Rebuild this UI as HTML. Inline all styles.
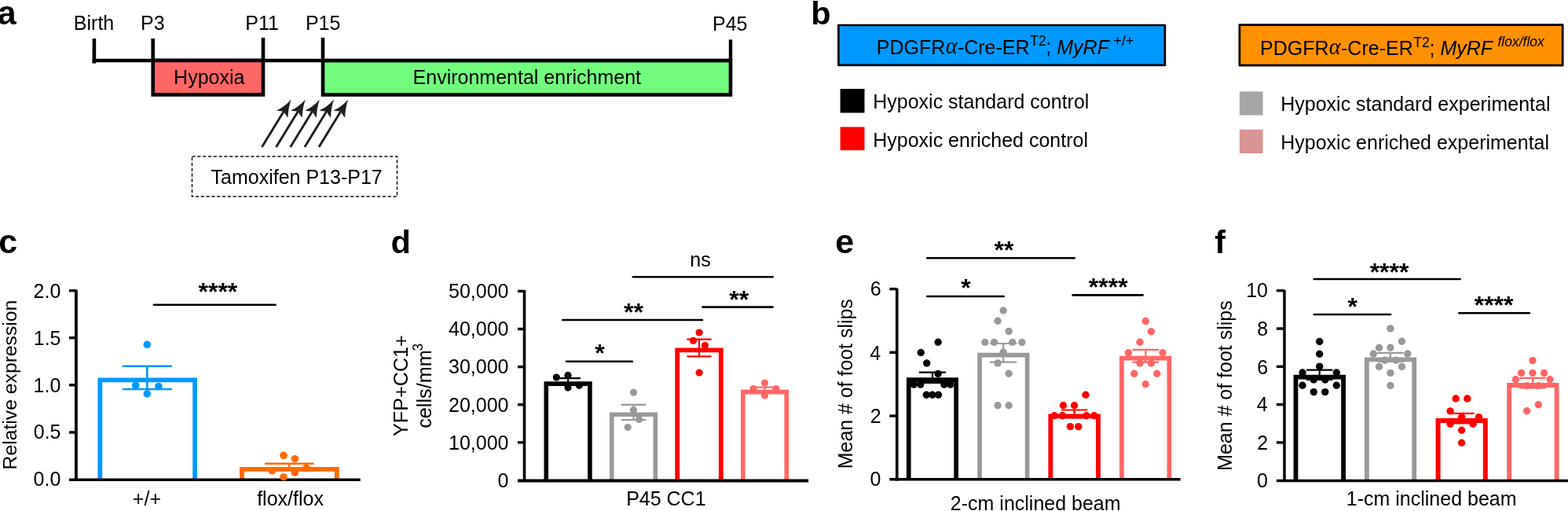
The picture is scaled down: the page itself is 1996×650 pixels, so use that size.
<!DOCTYPE html>
<html><head><meta charset="utf-8"><title>Figure</title>
<style>
html,body{margin:0;padding:0;background:#fff;}
body{width:1996px;height:650px;overflow:hidden;}
svg{display:block;font-family:"Liberation Sans", Arial, Helvetica, sans-serif;}
</style></head><body>
<svg width="1996" height="650" viewBox="0 0 1996 650">
<rect width="1996" height="650" fill="#fff"/>
<line x1="117.6" y1="76.9" x2="930" y2="76.9" stroke="#000" stroke-width="4.5" stroke-linecap="butt"/>
<line x1="119.9" y1="49" x2="119.9" y2="80.6" stroke="#000" stroke-width="4.6" stroke-linecap="butt"/>
<rect x="194.7" y="76.9" width="140.3" height="43.6" fill="#ff6666" stroke="#000" stroke-width="4.6"/>
<rect x="411" y="77.1" width="518.95" height="43.45" fill="#72fc7e" stroke="#000" stroke-width="4.6"/>
<line x1="194.7" y1="49" x2="194.7" y2="77" stroke="#000" stroke-width="4.6" stroke-linecap="butt"/>
<line x1="335" y1="47.9" x2="335" y2="77" stroke="#000" stroke-width="4.6" stroke-linecap="butt"/>
<line x1="411" y1="47.9" x2="411" y2="77" stroke="#000" stroke-width="4.6" stroke-linecap="butt"/>
<line x1="930" y1="50.4" x2="930" y2="77" stroke="#000" stroke-width="4.4" stroke-linecap="butt"/>
<line x1="333.4" y1="187" x2="362.23" y2="140.04" stroke="#1f1f1f" stroke-width="2.9" stroke-linecap="butt"/>
<path d="M370.6 126.4Q362.76 135.55 351.9 140.62Q358.47 141.95 361.39 141.4Q362.22 144.25 366.59 149.75Q366.69 137.73 370.6 126.4Z" fill="#1f1f1f"/>
<line x1="351.55" y1="187" x2="380.38" y2="140.04" stroke="#1f1f1f" stroke-width="2.9" stroke-linecap="butt"/>
<path d="M388.75 126.4Q380.91 135.55 370.05 140.62Q376.62 141.95 379.54 141.4Q380.37 144.25 384.74 149.75Q384.84 137.73 388.75 126.4Z" fill="#1f1f1f"/>
<line x1="369.7" y1="187" x2="398.53" y2="140.04" stroke="#1f1f1f" stroke-width="2.9" stroke-linecap="butt"/>
<path d="M406.9 126.4Q399.06 135.55 388.2 140.62Q394.77 141.95 397.69 141.4Q398.52 144.25 402.89 149.75Q402.99 137.73 406.9 126.4Z" fill="#1f1f1f"/>
<line x1="387.85" y1="187" x2="416.68" y2="140.04" stroke="#1f1f1f" stroke-width="2.9" stroke-linecap="butt"/>
<path d="M425.05 126.4Q417.21 135.55 406.35 140.62Q412.92 141.95 415.84 141.4Q416.67 144.25 421.04 149.75Q421.14 137.73 425.05 126.4Z" fill="#1f1f1f"/>
<line x1="406" y1="187" x2="434.83" y2="140.04" stroke="#1f1f1f" stroke-width="2.9" stroke-linecap="butt"/>
<path d="M443.2 126.4Q435.36 135.55 424.5 140.62Q431.07 141.95 433.99 141.4Q434.82 144.25 439.19 149.75Q439.29 137.73 443.2 126.4Z" fill="#1f1f1f"/>
<rect x="244.5" y="199.1" width="261.0" height="51.0" fill="none" stroke="#111" stroke-width="1.5" stroke-dasharray="4.2 2.6"/>
<rect x="1067.4" y="32.0" width="415.5" height="50.9" fill="#0099ff" stroke="#000" stroke-width="2.7" stroke-linejoin="round"/>
<rect x="1577.9" y="31.7" width="411.3" height="51.5" fill="#ff9100" stroke="#000" stroke-width="2.7" stroke-linejoin="round"/>
<rect x="1069.6" y="113" width="30.9" height="30.5" fill="#000"/>
<rect x="1069.6" y="161.5" width="30.9" height="29.7" fill="#ff0000"/>
<rect x="1577.9" y="116.4" width="29.7" height="30.1" fill="#a6a6a6"/>
<rect x="1577.9" y="164.9" width="29.7" height="30.1" fill="#d99494"/>
<line x1="88" y1="369.7" x2="96.9" y2="369.7" stroke="#000" stroke-width="3.4" stroke-linecap="butt"/>
<line x1="88" y1="429.7" x2="96.9" y2="429.7" stroke="#000" stroke-width="3.4" stroke-linecap="butt"/>
<line x1="88" y1="489.8" x2="96.9" y2="489.8" stroke="#000" stroke-width="3.4" stroke-linecap="butt"/>
<line x1="88" y1="550" x2="96.9" y2="550" stroke="#000" stroke-width="3.4" stroke-linecap="butt"/>
<line x1="96.9" y1="368.6" x2="96.9" y2="611.3" stroke="#000" stroke-width="3.8" stroke-linecap="butt"/>
<path d="M127.3 609.6V483.3H248.1V609.6" fill="none" stroke="#0099ff" stroke-width="5.8" stroke-linejoin="miter"/>
<path d="M307.9 609.6V596.8H428.8V609.6" fill="none" stroke="#ff6a00" stroke-width="5.8" stroke-linejoin="miter"/>
<path d="M156.7 465.8H217.9M187.3 465.8V495M156.7 495H217.9" fill="none" stroke="#0099ff" stroke-width="2.6" stroke-linecap="round"/>
<path d="M338 589.7H398.4M368.2 589.7V598.1M338 598.1H398.4" fill="none" stroke="#ff6a00" stroke-width="2.4" stroke-linecap="round"/>
<line x1="88" y1="610.2" x2="458.7" y2="610.2" stroke="#000" stroke-width="3.6" stroke-linecap="butt"/>
<circle cx="187.3" cy="438.3" r="4.8" fill="#0099ff"/>
<circle cx="172.7" cy="490.2" r="4.8" fill="#0099ff"/>
<circle cx="201.9" cy="491.5" r="4.8" fill="#0099ff"/>
<circle cx="187.3" cy="500.9" r="4.8" fill="#0099ff"/>
<circle cx="361" cy="579.3" r="4.8" fill="#ff6a00"/>
<circle cx="375.3" cy="583.7" r="4.8" fill="#ff6a00"/>
<circle cx="390" cy="595.5" r="4.8" fill="#ff6a00"/>
<circle cx="346.5" cy="598.8" r="4.8" fill="#ff6a00"/>
<circle cx="375.3" cy="601" r="4.8" fill="#ff6a00"/>
<circle cx="361" cy="606.7" r="4.8" fill="#ff6a00"/>
<line x1="195.9" y1="387.7" x2="350.6" y2="387.7" stroke="#000" stroke-width="2.6" stroke-linecap="round"/>
<line x1="659" y1="370.4" x2="667.5" y2="370.4" stroke="#000" stroke-width="3.4" stroke-linecap="butt"/>
<line x1="659" y1="418.5" x2="667.5" y2="418.5" stroke="#000" stroke-width="3.4" stroke-linecap="butt"/>
<line x1="659" y1="466.6" x2="667.5" y2="466.6" stroke="#000" stroke-width="3.4" stroke-linecap="butt"/>
<line x1="659" y1="514.7" x2="667.5" y2="514.7" stroke="#000" stroke-width="3.4" stroke-linecap="butt"/>
<line x1="659" y1="562.8" x2="667.5" y2="562.8" stroke="#000" stroke-width="3.4" stroke-linecap="butt"/>
<line x1="667.5" y1="368.9" x2="667.5" y2="613" stroke="#000" stroke-width="3.6" stroke-linecap="butt"/>
<path d="M695.3 611.5V488.1H750.9V611.5" fill="none" stroke="#000000" stroke-width="5.6" stroke-linejoin="miter"/>
<path d="M778.8 611.5V527.3H834.3V611.5" fill="none" stroke="#999999" stroke-width="5.6" stroke-linejoin="miter"/>
<path d="M862.2 611.5V445.4H917.8V611.5" fill="none" stroke="#ff0000" stroke-width="5.8" stroke-linejoin="miter"/>
<path d="M945.8 611.5V498.6H1001.2V611.5" fill="none" stroke="#ff6666" stroke-width="5.6" stroke-linejoin="miter"/>
<path d="M708.1 481.2H738.1M723.1 481.2V489.4M708.1 489.4H738.1" fill="none" stroke="#000000" stroke-width="2.2" stroke-linecap="round"/>
<path d="M791.5 514.9H821.5M806.5 514.9V534.1M791.5 534.1H821.5" fill="none" stroke="#999999" stroke-width="2.2" stroke-linecap="round"/>
<path d="M875.2 431.7H904.8M890 431.7V453.3M875.2 453.3H904.8" fill="none" stroke="#ff0000" stroke-width="2.2" stroke-linecap="round"/>
<path d="M958.7 492.6H988.3M973.5 492.6V499.2M958.7 499.2H988.3" fill="none" stroke="#ff6666" stroke-width="2.2" stroke-linecap="round"/>
<circle cx="708.4" cy="480" r="4.6" fill="#000000"/>
<circle cx="723" cy="477.4" r="4.6" fill="#000000"/>
<circle cx="723" cy="493.1" r="4.6" fill="#000000"/>
<circle cx="737.3" cy="490.3" r="4.6" fill="#000000"/>
<circle cx="806.5" cy="499.2" r="4.6" fill="#999999"/>
<circle cx="806.5" cy="521.5" r="4.6" fill="#999999"/>
<circle cx="813.5" cy="533.5" r="4.6" fill="#999999"/>
<circle cx="799.2" cy="543.5" r="4.6" fill="#999999"/>
<circle cx="890.1" cy="423" r="4.6" fill="#ff0000"/>
<circle cx="882.5" cy="433.3" r="4.6" fill="#ff0000"/>
<circle cx="897.4" cy="439.6" r="4.6" fill="#ff0000"/>
<circle cx="890.1" cy="474" r="4.6" fill="#ff0000"/>
<circle cx="973.5" cy="487" r="4.6" fill="#ff6666"/>
<circle cx="959.1" cy="494.6" r="4.6" fill="#ff6666"/>
<circle cx="987.9" cy="494.6" r="4.6" fill="#ff6666"/>
<circle cx="973.5" cy="503" r="4.6" fill="#ff6666"/>
<line x1="659" y1="611.5" x2="1029.1" y2="611.5" stroke="#000" stroke-width="3.8" stroke-linecap="butt"/>
<line x1="721" y1="459.8" x2="804.9" y2="459.8" stroke="#000" stroke-width="2.6" stroke-linecap="round"/>
<line x1="716.3" y1="407" x2="893.9" y2="407" stroke="#000" stroke-width="2.6" stroke-linecap="round"/>
<line x1="894.4" y1="390.6" x2="983.6" y2="390.6" stroke="#000" stroke-width="2.6" stroke-linecap="round"/>
<line x1="805.8" y1="352.2" x2="983.6" y2="352.2" stroke="#000" stroke-width="2.6" stroke-linecap="round"/>
<line x1="1132.4" y1="367.6" x2="1141.8" y2="367.6" stroke="#000" stroke-width="3.4" stroke-linecap="butt"/>
<line x1="1132.4" y1="448.3" x2="1141.8" y2="448.3" stroke="#000" stroke-width="3.4" stroke-linecap="butt"/>
<line x1="1132.4" y1="529" x2="1141.8" y2="529" stroke="#000" stroke-width="3.4" stroke-linecap="butt"/>
<line x1="1141.8" y1="367" x2="1141.8" y2="611.5" stroke="#000" stroke-width="3.6" stroke-linecap="butt"/>
<path d="M1156.75 609.8V483.15H1217.15V609.8" fill="none" stroke="#000000" stroke-width="5.7" stroke-linejoin="miter"/>
<path d="M1247.05 609.8V451.65H1307.65V609.8" fill="none" stroke="#999999" stroke-width="5.7" stroke-linejoin="miter"/>
<path d="M1337.35 609.8V529.35H1397.95V609.8" fill="none" stroke="#ff0000" stroke-width="5.9" stroke-linejoin="miter"/>
<path d="M1427.95 609.8V455.55H1488.35V609.8" fill="none" stroke="#ff6666" stroke-width="5.7" stroke-linejoin="miter"/>
<path d="M1170.8 473.7H1203.2M1187 473.7V486.9M1170.8 486.9H1203.2" fill="none" stroke="#000000" stroke-width="2.2" stroke-linecap="round"/>
<path d="M1261.1 437H1293.3M1277.2 437V460.6M1261.1 460.6H1293.3" fill="none" stroke="#999999" stroke-width="2.2" stroke-linecap="round"/>
<path d="M1351.7 521.5H1383.5M1367.6 521.5V531.3M1351.7 531.3H1383.5" fill="none" stroke="#ff0000" stroke-width="2.2" stroke-linecap="round"/>
<path d="M1442.3 444.8H1474.3M1458.3 444.8V460.6M1442.3 460.6H1474.3" fill="none" stroke="#ff6666" stroke-width="2.2" stroke-linecap="round"/>
<circle cx="1194.1" cy="435.2" r="4.7" fill="#000000"/>
<circle cx="1172.2" cy="448.5" r="4.7" fill="#000000"/>
<circle cx="1179.7" cy="462" r="4.7" fill="#000000"/>
<circle cx="1194.1" cy="475.4" r="4.7" fill="#000000"/>
<circle cx="1163.3" cy="489.1" r="4.7" fill="#000000"/>
<circle cx="1171.8" cy="489.1" r="4.7" fill="#000000"/>
<circle cx="1201.9" cy="489.1" r="4.7" fill="#000000"/>
<circle cx="1209.8" cy="489.1" r="4.7" fill="#000000"/>
<circle cx="1179.3" cy="502.2" r="4.7" fill="#000000"/>
<circle cx="1186.9" cy="502.2" r="4.7" fill="#000000"/>
<circle cx="1194.5" cy="502.2" r="4.7" fill="#000000"/>
<circle cx="1277.2" cy="395" r="4.7" fill="#999999"/>
<circle cx="1270.1" cy="408.2" r="4.7" fill="#999999"/>
<circle cx="1284.2" cy="421.5" r="4.7" fill="#999999"/>
<circle cx="1253.9" cy="435.4" r="4.7" fill="#999999"/>
<circle cx="1265.5" cy="435.4" r="4.7" fill="#999999"/>
<circle cx="1288.8" cy="435.4" r="4.7" fill="#999999"/>
<circle cx="1300.8" cy="435.4" r="4.7" fill="#999999"/>
<circle cx="1277.2" cy="448.1" r="4.7" fill="#999999"/>
<circle cx="1270.1" cy="461.9" r="4.7" fill="#999999"/>
<circle cx="1284.2" cy="475.3" r="4.7" fill="#999999"/>
<circle cx="1270.1" cy="515.7" r="4.7" fill="#999999"/>
<circle cx="1284.2" cy="515.7" r="4.7" fill="#999999"/>
<circle cx="1382" cy="502.2" r="4.7" fill="#ff0000"/>
<circle cx="1353.4" cy="515.7" r="4.7" fill="#ff0000"/>
<circle cx="1367.6" cy="515.7" r="4.7" fill="#ff0000"/>
<circle cx="1342.3" cy="528.7" r="4.7" fill="#ff0000"/>
<circle cx="1352.4" cy="528.7" r="4.7" fill="#ff0000"/>
<circle cx="1382.9" cy="528.7" r="4.7" fill="#ff0000"/>
<circle cx="1392.8" cy="528.7" r="4.7" fill="#ff0000"/>
<circle cx="1362.4" cy="542.6" r="4.7" fill="#ff0000"/>
<circle cx="1372.8" cy="542.6" r="4.7" fill="#ff0000"/>
<circle cx="1458.3" cy="408.5" r="4.7" fill="#ff6666"/>
<circle cx="1465.4" cy="421.7" r="4.7" fill="#ff6666"/>
<circle cx="1451" cy="435.2" r="4.7" fill="#ff6666"/>
<circle cx="1436.4" cy="448.7" r="4.7" fill="#ff6666"/>
<circle cx="1480.1" cy="448.7" r="4.7" fill="#ff6666"/>
<circle cx="1451" cy="462" r="4.7" fill="#ff6666"/>
<circle cx="1465.4" cy="462" r="4.7" fill="#ff6666"/>
<circle cx="1443.8" cy="475.2" r="4.7" fill="#ff6666"/>
<circle cx="1472.7" cy="475.2" r="4.7" fill="#ff6666"/>
<circle cx="1458.3" cy="488.7" r="4.7" fill="#ff6666"/>
<line x1="1132.4" y1="609.8" x2="1502.7" y2="609.8" stroke="#000" stroke-width="3.6" stroke-linecap="butt"/>
<line x1="1180.3" y1="328.3" x2="1367.7" y2="328.3" stroke="#000" stroke-width="2.6" stroke-linecap="round"/>
<line x1="1180.3" y1="377" x2="1277.8" y2="377" stroke="#000" stroke-width="2.6" stroke-linecap="round"/>
<line x1="1365.6" y1="375.4" x2="1454.6" y2="375.4" stroke="#000" stroke-width="2.6" stroke-linecap="round"/>
<line x1="1624.9" y1="369.7" x2="1635" y2="369.7" stroke="#000" stroke-width="3.4" stroke-linecap="butt"/>
<line x1="1624.9" y1="418" x2="1635" y2="418" stroke="#000" stroke-width="3.4" stroke-linecap="butt"/>
<line x1="1624.9" y1="466.3" x2="1635" y2="466.3" stroke="#000" stroke-width="3.4" stroke-linecap="butt"/>
<line x1="1624.9" y1="514.6" x2="1635" y2="514.6" stroke="#000" stroke-width="3.4" stroke-linecap="butt"/>
<line x1="1624.9" y1="562.9" x2="1635" y2="562.9" stroke="#000" stroke-width="3.4" stroke-linecap="butt"/>
<line x1="1635" y1="368.9" x2="1635" y2="613" stroke="#000" stroke-width="3.5" stroke-linecap="butt"/>
<path d="M1649.5 611.5V479.7H1710.1V611.5" fill="none" stroke="#000000" stroke-width="5.8" stroke-linejoin="miter"/>
<path d="M1739.9 611.5V457.3H1800.2V611.5" fill="none" stroke="#999999" stroke-width="5.8" stroke-linejoin="miter"/>
<path d="M1830.6 611.5V535.1H1890.8V611.5" fill="none" stroke="#ff0000" stroke-width="6" stroke-linejoin="miter"/>
<path d="M1921.1 611.5V490H1981.6V611.5" fill="none" stroke="#ff6666" stroke-width="5.8" stroke-linejoin="miter"/>
<path d="M1663.9 470.7H1695.5M1679.7 470.7V482.9M1663.9 482.9H1695.5" fill="none" stroke="#000000" stroke-width="2.2" stroke-linecap="round"/>
<path d="M1754 448.9H1785.8M1769.9 448.9V459.9M1754 459.9H1785.8" fill="none" stroke="#999999" stroke-width="2.2" stroke-linecap="round"/>
<path d="M1845.3 525.9H1875.9M1860.6 525.9V538.3M1845.3 538.3H1875.9" fill="none" stroke="#ff0000" stroke-width="2.2" stroke-linecap="round"/>
<path d="M1934.9 480.8H1967.1M1951 480.8V493.4M1934.9 493.4H1967.1" fill="none" stroke="#ff6666" stroke-width="2.2" stroke-linecap="round"/>
<circle cx="1679.7" cy="434.5" r="4.7" fill="#000000"/>
<circle cx="1679.7" cy="450.2" r="4.7" fill="#000000"/>
<circle cx="1679.7" cy="466.1" r="4.7" fill="#000000"/>
<circle cx="1658" cy="474" r="4.7" fill="#000000"/>
<circle cx="1701.3" cy="474" r="4.7" fill="#000000"/>
<circle cx="1672.3" cy="483" r="4.7" fill="#000000"/>
<circle cx="1686.8" cy="483" r="4.7" fill="#000000"/>
<circle cx="1658" cy="490.3" r="4.7" fill="#000000"/>
<circle cx="1701.3" cy="490.3" r="4.7" fill="#000000"/>
<circle cx="1672.3" cy="498.6" r="4.7" fill="#000000"/>
<circle cx="1686.8" cy="498.6" r="4.7" fill="#000000"/>
<circle cx="1769.9" cy="417.9" r="4.7" fill="#999999"/>
<circle cx="1784.5" cy="434.2" r="4.7" fill="#999999"/>
<circle cx="1755.6" cy="442.3" r="4.7" fill="#999999"/>
<circle cx="1769.9" cy="442.3" r="4.7" fill="#999999"/>
<circle cx="1748.3" cy="450" r="4.7" fill="#999999"/>
<circle cx="1791.8" cy="450" r="4.7" fill="#999999"/>
<circle cx="1762.9" cy="458.3" r="4.7" fill="#999999"/>
<circle cx="1777.2" cy="458.3" r="4.7" fill="#999999"/>
<circle cx="1755.6" cy="466.4" r="4.7" fill="#999999"/>
<circle cx="1784.5" cy="466.4" r="4.7" fill="#999999"/>
<circle cx="1769.9" cy="474.4" r="4.7" fill="#999999"/>
<circle cx="1769.9" cy="490.5" r="4.7" fill="#999999"/>
<circle cx="1853.2" cy="507" r="4.7" fill="#ff0000"/>
<circle cx="1867.8" cy="507" r="4.7" fill="#ff0000"/>
<circle cx="1846.1" cy="522.9" r="4.7" fill="#ff0000"/>
<circle cx="1860.6" cy="530.4" r="4.7" fill="#ff0000"/>
<circle cx="1882.5" cy="530.6" r="4.7" fill="#ff0000"/>
<circle cx="1846.1" cy="539.2" r="4.7" fill="#ff0000"/>
<circle cx="1875.1" cy="539.2" r="4.7" fill="#ff0000"/>
<circle cx="1860.6" cy="547.2" r="4.7" fill="#ff0000"/>
<circle cx="1860.6" cy="563.2" r="4.7" fill="#ff0000"/>
<circle cx="1951" cy="458.6" r="4.7" fill="#ff6666"/>
<circle cx="1936.5" cy="474.4" r="4.7" fill="#ff6666"/>
<circle cx="1951" cy="474.4" r="4.7" fill="#ff6666"/>
<circle cx="1965.6" cy="474.4" r="4.7" fill="#ff6666"/>
<circle cx="1929.4" cy="482.7" r="4.7" fill="#ff6666"/>
<circle cx="1973.1" cy="482.7" r="4.7" fill="#ff6666"/>
<circle cx="1943.7" cy="490.6" r="4.7" fill="#ff6666"/>
<circle cx="1958.3" cy="490.6" r="4.7" fill="#ff6666"/>
<circle cx="1958.3" cy="514.7" r="4.7" fill="#ff6666"/>
<circle cx="1943.7" cy="522.8" r="4.7" fill="#ff6666"/>
<line x1="1624.9" y1="611.5" x2="1996" y2="611.5" stroke="#000" stroke-width="3.6" stroke-linecap="butt"/>
<line x1="1672.7" y1="355" x2="1858.7" y2="355" stroke="#000" stroke-width="2.6" stroke-linecap="round"/>
<line x1="1672.7" y1="400" x2="1770.1" y2="400" stroke="#000" stroke-width="2.6" stroke-linecap="round"/>
<line x1="1857.4" y1="398.3" x2="1946.9" y2="398.3" stroke="#000" stroke-width="2.6" stroke-linecap="round"/>
<text id="la" x="20.62" y="31" font-size="43" text-anchor="end" font-weight="bold" fill="#000">a</text>
<text id="lb" x="1032.37" y="31" font-size="41.5" text-anchor="start" font-weight="bold" fill="#000">b</text>
<text id="lc" x="22.25" y="322.11" font-size="43" text-anchor="end" font-weight="bold" fill="#000">c</text>
<text id="ld" x="497.6" y="321.71" font-size="41.5" text-anchor="start" font-weight="bold" fill="#000">d</text>
<text id="le" x="1063.34" y="321.91" font-size="43" text-anchor="start" font-weight="bold" fill="#000">e</text>
<text id="lf" x="1546.32" y="322" font-size="41.5" text-anchor="start" font-weight="bold" fill="#000">f</text>
<text id="birth" x="93.85" y="38" font-size="25" text-anchor="start" fill="#000">Birth</text>
<text id="p3" x="179.05" y="38" font-size="25" text-anchor="start" fill="#000">P3</text>
<text id="p11" x="333.62" y="38" font-size="25" text-anchor="middle" fill="#000">P11</text>
<text id="p15" x="388.89" y="38" font-size="25" text-anchor="start" fill="#000">P15</text>
<text id="p45" x="907" y="39" font-size="25" text-anchor="start" fill="#000">P45</text>
<text id="hyp" x="221.09" y="107" font-size="25" text-anchor="start" fill="#000">Hypoxia</text>
<text id="env" x="525.6" y="107" font-size="25" text-anchor="start" fill="#000">Environmental enrichment</text>
<text id="tam" x="268.53" y="234" font-size="25" text-anchor="start" fill="#000">Tamoxifen P13-P17</text>
<text id="lg1" x="1111.24" y="138" font-size="25" text-anchor="start" fill="#000">Hypoxic standard control</text>
<text id="lg2" x="1111.24" y="187" font-size="25" text-anchor="start" fill="#000">Hypoxic enriched control</text>
<text id="lg3" x="1630.24" y="141" font-size="25" text-anchor="start" fill="#000">Hypoxic standard experimental</text>
<text id="lg4" x="1630.24" y="190" font-size="25" text-anchor="start" fill="#000">Hypoxic enriched experimental</text>
<text id="c_sig" x="252.48" y="381.51" font-size="32" text-anchor="start" font-weight="bold" fill="#000">****</text>
<text id="c_x1" x="168.86" y="643" font-size="25" text-anchor="start" fill="#000">+/+</text>
<text id="c_x2" x="327.17" y="643" font-size="25" text-anchor="start" fill="#000">flox/flox</text>
<text id="c_y" transform="translate(20.6 597.4) rotate(-90)" x="0" y="0" font-size="24.72" text-anchor="start">Relative expression</text>
<text id="d_s1" x="757.16" y="460.01" font-size="32" text-anchor="start" font-weight="bold" fill="#000">*</text>
<text id="d_s2" x="794.09" y="407.51" font-size="32" text-anchor="start" font-weight="bold" fill="#000">**</text>
<text id="d_s3" x="928.18" y="391.61" font-size="32" text-anchor="start" font-weight="bold" fill="#000">**</text>
<text id="d_ns" x="878.35" y="338.7" font-size="25" text-anchor="start" fill="#000">ns</text>
<text id="d_x" x="797.15" y="643.2" font-size="25" text-anchor="start" fill="#000">P45 CC1</text>
<text id="d_y1" transform="translate(519 554.92) rotate(-90)" x="0" y="0" font-size="25.18" text-anchor="start">YFP+CC1+</text>
<text id="e_s1" x="1265.45" y="328.91" font-size="32" text-anchor="start" font-weight="bold" fill="#000">**</text>
<text id="e_s2" x="1223.29" y="376.71" font-size="32" text-anchor="start" font-weight="bold" fill="#000">*</text>
<text id="e_s3" x="1385.83" y="375.61" font-size="32" text-anchor="start" font-weight="bold" fill="#000">****</text>
<text id="e_x" x="1209.83" y="649" font-size="25" text-anchor="start" fill="#000">2-cm inclined beam</text>
<text id="e_y" transform="translate(1085.4 596.22) rotate(-90)" x="0" y="0" font-size="24.92" text-anchor="start">Mean # of foot slips</text>
<text id="f_s1" x="1743.63" y="357.41" font-size="32" text-anchor="start" font-weight="bold" fill="#000">****</text>
<text id="f_s2" x="1715.55" y="401.31" font-size="32" text-anchor="start" font-weight="bold" fill="#000">*</text>
<text id="f_s3" x="1876.68" y="399.01" font-size="32" text-anchor="start" font-weight="bold" fill="#000">****</text>
<text id="f_x" x="1713.8" y="643" font-size="25" text-anchor="start" fill="#000">1-cm inclined beam</text>
<text id="f_y" transform="translate(1568.1 598.87) rotate(-90)" x="0" y="0" font-size="24.98" text-anchor="start">Mean # of foot slips</text>
<text id="tc_2.0" x="77.38" y="379.15" font-size="25" text-anchor="end" fill="#000">2.0</text>
<text id="tc_1.5" x="77.52" y="438.96" font-size="25" text-anchor="end" fill="#000">1.5</text>
<text id="tc_1.0" x="77.38" y="498.7" font-size="25" text-anchor="end" fill="#000">1.0</text>
<text id="tc_0.5" x="77.52" y="558.48" font-size="25" text-anchor="end" fill="#000">0.5</text>
<text id="tc_0.0" x="77.38" y="618.2" font-size="25" text-anchor="end" fill="#000">0.0</text>
<text id="td_50,000" x="647.52" y="379.2" font-size="25" text-anchor="end" fill="#000">50,000</text>
<text id="td_40,000" x="647.52" y="427.3" font-size="25" text-anchor="end" fill="#000">40,000</text>
<text id="td_30,000" x="647.52" y="475.4" font-size="25" text-anchor="end" fill="#000">30,000</text>
<text id="td_20,000" x="647.52" y="523.5" font-size="25" text-anchor="end" fill="#000">20,000</text>
<text id="td_10,000" x="647.52" y="571.6" font-size="25" text-anchor="end" fill="#000">10,000</text>
<text id="td_0" x="647.52" y="620.05" font-size="25" text-anchor="end" fill="#000">0</text>
<text id="te_6" x="1121.64" y="376.35" font-size="25" text-anchor="end" fill="#000">6</text>
<text id="te_4" x="1121.26" y="457.65" font-size="25" text-anchor="end" fill="#000">4</text>
<text id="te_2" x="1121.59" y="537.95" font-size="25" text-anchor="end" fill="#000">2</text>
<text id="te_0" x="1121.38" y="618.2" font-size="25" text-anchor="end" fill="#000">0</text>
<text id="tf_10" x="1614.03" y="378.25" font-size="25" text-anchor="end" fill="#000">10</text>
<text id="tf_8" x="1614.26" y="426.95" font-size="25" text-anchor="end" fill="#000">8</text>
<text id="tf_6" x="1614.28" y="475.65" font-size="25" text-anchor="end" fill="#000">6</text>
<text id="tf_4" x="1613.66" y="523.35" font-size="25" text-anchor="end" fill="#000">4</text>
<text id="tf_2" x="1614.23" y="572.05" font-size="25" text-anchor="end" fill="#000">2</text>
<text id="tf_0" x="1614.03" y="619.7" font-size="25" text-anchor="end" fill="#000">0</text>
<text id="b1a" x="1115.85" y="68.5" font-size="25" text-anchor="start" fill="#000">PDGFR</text>
<text id="b1al" x="1203.64" y="67.6" font-size="28.5" text-anchor="start" font-family="Liberation Serif" font-style="italic" fill="#000">&#945;</text>
<text id="b1b" x="1218.91" y="68.5" font-size="25" text-anchor="start" fill="#000">-Cre-ER</text>
<text id="b1c" x="1311.21" y="57.66" font-size="17.5" text-anchor="start" fill="#000">T2</text>
<text id="b1d" x="1331.26" y="68" font-size="25" text-anchor="start" fill="#000">;</text>
<text id="b1e" x="1345.3" y="68.5" font-size="25" text-anchor="start" font-style="italic" fill="#000">MyRF</text>
<text id="b1f" x="1417.62" y="57.79" font-size="17.8" text-anchor="start" fill="#000">+/+</text>
<text id="b2a" x="1604" y="69.9" font-size="25" text-anchor="start" fill="#000">PDGFR</text>
<text id="b2al" x="1691.84" y="69.2" font-size="28.5" text-anchor="start" font-family="Liberation Serif" font-style="italic" fill="#000">&#945;</text>
<text id="b2b" x="1707.05" y="69.9" font-size="25" text-anchor="start" fill="#000">-Cre-ER</text>
<text id="b2c" x="1799.21" y="59.5" font-size="17.5" text-anchor="start" fill="#000">T2</text>
<text id="b2d" x="1819.53" y="70" font-size="25" text-anchor="start" fill="#000">;</text>
<text id="b2e" x="1833.47" y="69.9" font-size="25" text-anchor="start" font-style="italic" fill="#000">MyRF</text>
<text id="b2f" x="1906.45" y="58.74" font-size="17.5" text-anchor="start" font-style="italic" fill="#000">flox/flox</text>
<text id="cells" transform="translate(549.2 544.78) rotate(-90)" x="0" y="0" font-size="25.24" text-anchor="start">cells/mm</text>
<text id="cub" transform="translate(537.64 446.46) rotate(-90)" x="0" y="0" font-size="17.5" text-anchor="start">3</text>
</svg>
</body></html>
